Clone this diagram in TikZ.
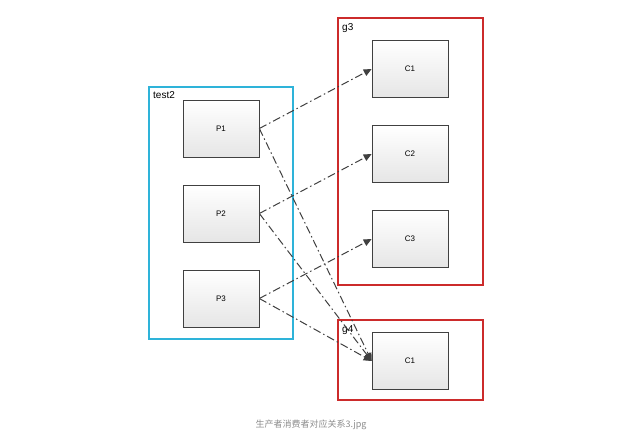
\documentclass[tikz,border=0pt]{standalone}
\usepackage{fontspec}
\setmainfont{Liberation Sans}
\newfontfamily\cjk{Noto Sans CJK SC}
\usetikzlibrary{arrows.meta}
\definecolor{tcyan}{HTML}{2EB3D9}
\definecolor{gred}{HTML}{CC2B2B}
\begin{document}
\begin{tikzpicture}[x=1pt,y=-1pt,
  blk/.style={draw=black!75,line width=0.7pt,top color=white,bottom color=black!10,minimum width=76pt,minimum height=57pt,inner sep=0pt,font=\footnotesize},
  grp/.style={line width=1.8pt},
  lnk/.style={draw=black!75,line width=1pt,dash pattern=on 8pt off 3pt on 1.5pt off 3pt,-{Triangle[length=8pt,width=7pt]}}]
\useasboundingbox (0,0) rectangle (623,443);
\draw[grp,draw=tcyan] (149,87) rectangle (293,339);
\draw[grp,draw=gred] (338,18) rectangle (483,285);
\draw[grp,draw=gred] (338,320) rectangle (483,400);
\node[anchor=north west,inner sep=1pt] (t2) at (152,90) {test2};
\node[anchor=north west,inner sep=1pt] (g3) at (341,22) {g3};
\node[anchor=north west,inner sep=1pt] (g4) at (341,324) {g4};
\node[blk] (p1) at (221,128.5) {P1};
\node[blk] (p2) at (221,213.5) {P2};
\node[blk] (p3) at (221,298.5) {P3};
\node[blk] (c1) at (410,69) {C1};
\node[blk] (c2) at (410,154) {C2};
\node[blk] (c3) at (410,239) {C3};
\node[blk] (c4) at (410,361) {C1};
\draw[lnk] (p1.east) -- (c1.west);
\draw[lnk] (p2.east) -- (c2.west);
\draw[lnk] (p3.east) -- (c3.west);
\draw[lnk] (p1.east) -- (c4.west);
\draw[lnk] (p2.east) -- (c4.west);
\draw[lnk] (p3.east) -- (c4.west);
\node[font=\cjk\small,text=black!45] (cap) at (311,425) {生产者消费者对应关系3.jpg};
\end{tikzpicture}
\end{document}
